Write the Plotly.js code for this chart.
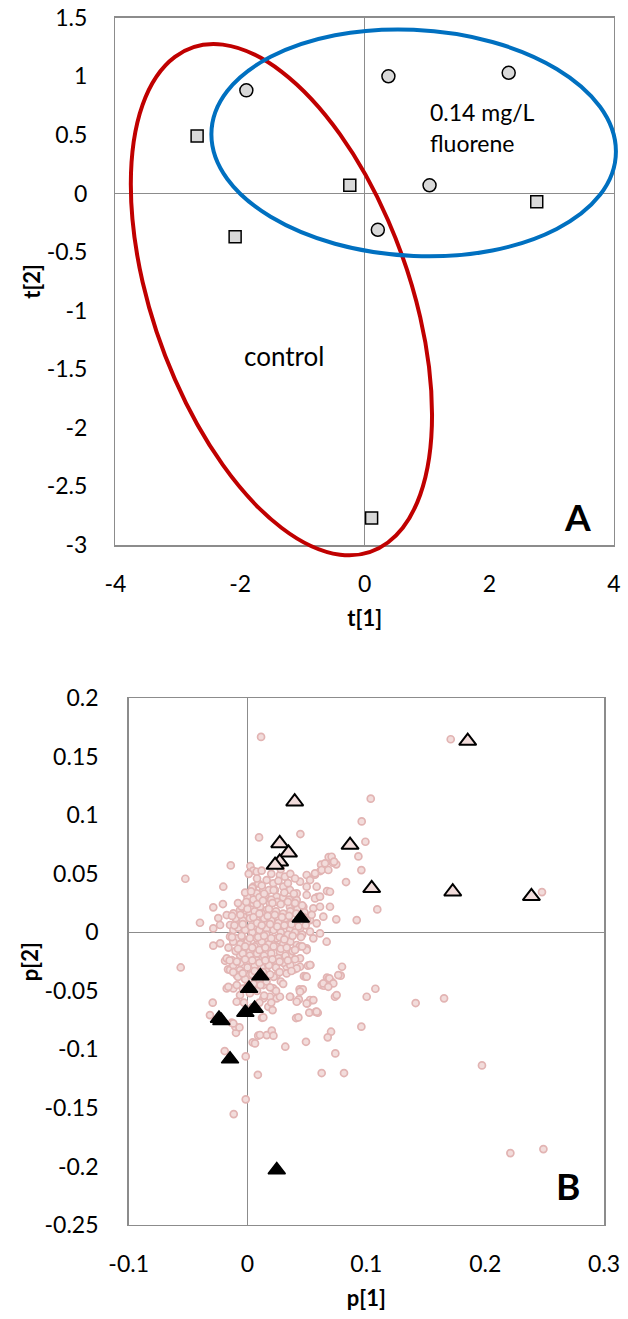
<!DOCTYPE html>
<html><head><meta charset="utf-8">
<script src="https://cdn.plot.ly/plotly-3.0.1.min.js"></script>
<style>html,body{margin:0;padding:0;background:#fff;}</style>
</head><body>
<div id="chart" style="width:628px;height:1319px;"></div>
<script>
// ---------- Panel A: scores ----------
const controlT1 = [-2.69, -0.24, 2.76, -2.08, 0.11];
const controlT2 = [0.49, 0.07, -0.07, -0.37, -2.77];
const fluoreneT1 = [-1.90, 0.38, 2.31, 1.04, 0.21];
const fluoreneT2 = [0.88, 1.00, 1.03, 0.07, -0.31];
// confidence ellipses: centre (t1,t2) and two conjugate semi-diameters
const ellipseControl = [-1.337, -0.881, 2.417, -0.995, 0.0, 1.968];
const ellipseFluorene = [0.785, 0.472, 3.246, -0.074, 0.0, 0.976];

const aXTicks = [-4, -2, 0, 2, 4];
const aXTickText = ['-4', '-2', '0', '2', '4'];
const aYTicks = [1.5, 1, 0.5, 0, -0.5, -1, -1.5, -2, -2.5, -3];
const aYTickText = ['1.5', '1', '0.5', '0', '-0.5', '-1', '-1.5', '-2', '-2.5', '-3'];

// ---------- Panel B: loadings ----------
const loadP1 = [
0.0114,0.171,0.1037,0.0961,0.0445,0.0097,0.0992,0.0933,0.0958,0.0829,
-0.0523,-0.0141,0.0024,0.0048,0.001,-0.0204,-0.040,-0.0288,-0.0207,-0.0246,
0.0747,0.0919,0.1092,0.2478,0.0669,0.0587,0.0683,0.0747,0.0619,0.0613,
0.0568,0.0717,-0.0562,-0.0288,-0.023,0.0795,0.0784,0.0669,0.0681,0.0624,
0.1076,0.1003,0.1415,0.1654,0.0736,0.0958,0.0703,0.0675,0.0739,0.0624,
0.0812,0.1973,0.2212,0.249,-0.0015,0.0087,-0.0015,-0.0116,-0.0192,0.0318,
0.0492,0.0044,0.009,0.0162,0.0204,0.0218,0.0409,0.052,0.0574,-0.0316,
-0.0293,0.036,0.0432,0.0438,0.0537,0.0503,0.0475,0.0509,0.0394,-0.0175,
-0.0189,-0.0164,-0.0097,-0.0102,-0.0068,-0.0133,0.0122,0.0175,0.0211,0.0245,
0.0063,0.0105,0.0133,0.0428,0.0465,0.0526,0.0591,0.0490,0.0529,0.0644,
0.0709,-0.012,-0.0147,
0.0077,0.0119,-0.0119,-0.0063,-0.0007,0.0161,0.0217,0.0273,0.0315,0.0231,
0.0301,0.0357,0.0133,0.0077,0.0049,0.0091,0.0498,0.0568,0.0624,0.0652,
0.0708,0.0728,0.0680,0.0526,0.0442,0.0498,0.0582,0.0414,0.0498,0.0568,
0.0610,0.0694,0.0694,0.0554,0.0470,0.0414,0.0357,0.0301,0.0245,0.0189,
0.0161,0.0105,0.0049,0.0021,-0.0035,-0.0091,-0.0147,-0.0175,-0.0231,-0.0288,
-0.0063,0.0077,0.0161,0.0245,0.0329,0.0442,0.0526,0.0582,0.0638,0.0610,
-0.0119,-0.0035,0.0049,0.0161,0.0273,0.0357,0.0442,0.0526,0.0610,0.0666,
0.0554,0.0498,0.0414,0.0329,0.0245,0.0161,0.0077,-0.0007,-0.0091,-0.0147,
-0.0175,-0.0133,-0.0063,0.0021,0.0105,0.0189,0.0273,0.0357,0.0442,0.0498,
0.0442,0.0526,0.0414,0.0329,0.0245,0.0161,0.0077,-0.0007,-0.0063,-0.0091,
0.0021,0.0077,0.0161,0.0245,0.0329,0.0133,0.0217,0.0273,0.0189,0.0133,
-0.0119,-0.0161,-0.0063,-0.0091,0.0357,0.0414,0.0498,0.0554,0.0582,0.0442,
0.0498,0.0638,0.0689,0.0722,0.0680,0.0750,0.0764,
0.000,0.005,0.010,0.015,0.020,0.025,0.030,0.035,0.040,
-0.005,0.000,0.006,0.012,0.018,0.024,0.030,0.036,0.042,0.048,
-0.010,-0.004,0.002,0.008,0.014,0.020,0.026,0.032,0.038,0.050,
-0.008,-0.002,0.004,0.010,0.016,0.022,0.028,0.034,0.040,0.046,
-0.012,-0.006,0.000,0.006,0.012,0.018,0.024,0.030,0.036,0.044,
-0.010,-0.004,0.002,0.008,0.014,0.020,0.026,0.032,0.038,
-0.012,-0.006,0.000,0.006,0.012,0.018,0.024,0.030,0.036,
-0.008,-0.002,0.004,0.010,0.016,0.022,0.028,
-0.004,0.002,0.008,0.014,0.024,
-0.003,0.004,0.010,0.020,
0.004,0.012,0.018,0.026,0.034,0.008,0.020,0.028,0.036,0.040,
-0.002,0.003,0.014,0.022,0.031,0.039,
-0.008,-0.001,0.008,0.013,0.021,0.028,0.034,0.040,0.046,
-0.013,-0.006,0.005,0.010,0.017,0.023,0.029,0.035,0.041,0.047,0.054,
-0.011,-0.004,0.003,0.012,0.019,0.025,0.031,0.037,0.043,0.049,
-0.013,-0.005,0.002,0.009,0.014,0.020,0.027,0.031,0.038,0.045,
-0.016,-0.008,-0.002,0.004,0.010,0.015,0.022,0.028,0.033,0.040,0.046,
-0.015,-0.009,-0.002,0.004,0.010,0.015,0.021,0.027,0.034,0.040,
-0.012,-0.004,0.006,0.013,0.019,0.027,0.037,
-0.009,0.000,0.005,0.011,0.019,0.030
];
const loadP2 = [
0.167,0.165,0.1142,0.0948,0.084,0.0811,0.0774,0.0649,0.0532,0.043,
0.0458,0.0572,0.0566,0.0527,0.050,0.039,0.0082,0.0214,0.0242,0.0122,
0.0111,0.0105,0.0196,0.0344,0.0353,0.0302,0.0643,0.0581,0.0578,0.0524,
0.0493,0.0595,-0.030,-0.0114,-0.0094,-0.0294,-0.037,-0.0387,-0.040,-0.045,
-0.0482,-0.055,-0.0604,-0.0564,-0.055,-0.0806,-0.0849,-0.0897,-0.1034,-0.1202,
-0.1202,-0.1137,-0.1886,-0.1852,-0.106,-0.1217,-0.1427,-0.1553,-0.1014,-0.0977,
-0.0935,-0.094,-0.0883,-0.0878,-0.084,-0.0883,-0.0732,-0.0686,-0.068,-0.0707,
-0.0601,-0.055,-0.0573,-0.0487,-0.058,-0.0607,-0.0374,-0.0285,-0.0316,-0.0479,
-0.0243,-0.0316,-0.0858,-0.0806,-0.0812,-0.0772,-0.073,-0.0636,-0.0664,-0.0564,
-0.0949,-0.0877,-0.0727,-0.0727,-0.0487,-0.0578,-0.0687,-0.0379,-0.0279,-0.0456,
-0.0422,-0.0778,-0.032,
0.0518,0.0527,0.0163,0.0191,0.0219,0.0447,0.0419,0.0490,0.0476,0.0362,
0.0390,0.0362,0.0362,0.0333,0.039,0.0419,0.0490,0.0504,0.0533,0.0590,
0.0646,0.0604,0.0533,0.0447,0.0433,0.0390,0.0390,0.0333,0.0319,0.0290,
0.0305,0.0347,0.0219,0.0205,0.0219,0.0276,0.0219,0.0276,0.0305,0.0248,
0.0191,0.0219,0.0248,0.0163,0.0134,0.0105,0.0063,0.0148,0.0063,0.0034,
0.0048,0.0105,0.0077,0.0134,0.0105,0.0134,0.0105,0.0077,0.0134,0.0219,
0.0020,0.0034,0.0048,0.0034,0.0048,0.0020,0.0034,0.0006,-0.0009,-0.0080,
-0.0051,-0.0137,-0.0108,-0.0080,-0.0051,-0.0066,-0.0051,-0.0066,-0.0051,-0.0037,
-0.0222,-0.0237,-0.0194,-0.0165,-0.0151,-0.0137,-0.0165,-0.0194,-0.0222,-0.0151,
-0.0294,-0.0279,-0.0308,-0.0294,-0.0251,-0.0222,-0.0237,-0.0251,-0.0322,-0.0365,
-0.0365,-0.0393,-0.0336,-0.0365,-0.0351,-0.0450,-0.0479,-0.0550,-0.0550,-0.0564,
-0.0479,-0.0465,-0.0536,-0.0593,-0.0550,-0.0593,-0.0607,-0.0579,-0.0678,-0.0507,
-0.0379,-0.0436,-0.0393,-0.0436,-0.0465,-0.0536,-0.0365,
0.030,0.028,0.030,0.032,0.028,0.026,0.030,0.028,0.024,
0.022,0.020,0.018,0.016,0.020,0.018,0.016,0.018,0.020,0.017,
0.012,0.010,0.012,0.008,0.012,0.010,0.008,0.012,0.008,0.010,
0.004,0.002,0.000,0.002,-0.002,0.002,0.000,-0.002,0.000,-0.002,
-0.008,-0.010,-0.008,-0.012,-0.008,-0.010,-0.012,-0.010,-0.008,-0.012,
-0.016,-0.018,-0.020,-0.018,-0.020,-0.018,-0.022,-0.020,-0.016,
-0.028,-0.026,-0.030,-0.028,-0.030,-0.028,-0.030,-0.026,-0.028,
-0.038,-0.040,-0.036,-0.040,-0.042,-0.038,-0.042,
-0.048,-0.052,-0.050,-0.054,-0.050,
-0.060,-0.064,-0.060,-0.060,
0.038,0.040,0.036,0.044,0.042,0.046,0.050,0.054,0.050,0.046,
0.034,0.035,0.033,0.036,0.034,0.033,
0.025,0.026,0.024,0.027,0.025,0.024,0.026,0.025,0.023,
0.014,0.015,0.013,0.016,0.014,0.015,0.013,0.014,0.016,0.013,0.015,
0.006,0.007,0.005,0.006,0.007,0.005,0.006,0.007,0.005,0.006,
-0.004,-0.003,-0.005,-0.004,-0.003,-0.005,-0.004,-0.006,-0.003,-0.004,
-0.013,-0.014,-0.012,-0.013,-0.015,-0.013,-0.012,-0.014,-0.013,-0.015,-0.012,
-0.024,-0.025,-0.023,-0.024,-0.026,-0.024,-0.023,-0.025,-0.024,-0.023,
-0.034,-0.035,-0.033,-0.034,-0.036,-0.034,-0.033,
-0.045,-0.046,-0.044,-0.045,-0.047,-0.044
];
// highlighted variables
const upP1 = [0.1853, 0.0397, 0.0271, 0.0345, 0.0271, 0.0232, 0.0863, 0.1045, 0.1727, 0.2389];
const upP2 = [0.1634, 0.1116, 0.0760, 0.0680, 0.0603, 0.0575, 0.0746, 0.0376, 0.0347, 0.0308];
const downP1 = [0.0448, 0.0108, 0.0013, 0.0060, -0.0018, -0.0220, -0.0240, -0.0147, 0.0246];
const downP2 = [0.0120, -0.0373, -0.0479, -0.0650, -0.0684, -0.0755, -0.0735, -0.1083, -0.2030];

const bXTicks = [-0.1, 0, 0.1, 0.2, 0.3];
const bXTickText = ['-0.1', '0', '0.1', '0.2', '0.3'];
const bYTicks = [0.2, 0.15, 0.1, 0.05, 0, -0.05, -0.1, -0.15, -0.2, -0.25];
const bYTickText = ['0.2', '0.15', '0.1', '0.05', '0', '-0.05', '-0.1', '-0.15', '-0.2', '-0.25'];

// ---------- build ----------
const FONT = 'Lato, "Open Sans", sans-serif';
const GRAY = '#8c8c8c';
const W = 628, H = 1319;

const aDomX = [0.1839, 0.9777], aDomY = [0.5868, 0.9866];
const aRangeX = [-4, 4], aRangeY = [-3, 1.5];
// invisible twin axes of panel A, a little larger, so the ellipses may run past the frame
function widen(dom, rng, padFrac) {
  const s = (rng[1] - rng[0]) / (dom[1] - dom[0]);
  return {domain: [dom[0] - padFrac, dom[1] + padFrac], range: [rng[0] - padFrac * s, rng[1] + padFrac * s]};
}
const twinX = widen(aDomX, aRangeX, 12 / W);
const twinY = widen(aDomY, aRangeY, 24 / H);

function ellipsePath(e) {
  const [cx, cy, ux, uy, vx, vy] = e;
  const k = 0.5523;
  const P = (a, b) => [cx + a * ux + b * vx, cy + a * uy + b * vy];
  const pts = [[1,0],[0,1],[-1,0],[0,-1]];
  let d = 'M' + P(1,0).join(',');
  for (let i = 0; i < 4; i++) {
    const [a0, b0] = pts[i], [a1, b1] = pts[(i + 1) % 4];
    const c1 = P(a0 + k * a1, b0 + k * b1);
    const c2 = P(a1 + k * a0, b1 + k * b0);
    const p = P(a1, b1);
    d += ' C' + c1.join(',') + ' ' + c2.join(',') + ' ' + p.join(',');
  }
  return d + ' Z';
}

const traces = [
  {x: controlT1, y: controlT2, xaxis: 'x', yaxis: 'y', type: 'scatter', mode: 'markers', name: 'control',
   marker: {symbol: 'square', size: 12, color: '#d9d9d9', line: {color: '#000', width: 1.5}}},
  {x: fluoreneT1, y: fluoreneT2, xaxis: 'x', yaxis: 'y', type: 'scatter', mode: 'markers', name: '0.14 mg/L fluorene',
   marker: {symbol: 'circle', size: 13, color: '#d9d9d9', line: {color: '#000', width: 1.5}}},
  {x: [], y: [], xaxis: 'x3', yaxis: 'y3', type: 'scatter', mode: 'markers', hoverinfo: 'skip', name: 'ellipses'},
  {x: loadP1, y: loadP2, xaxis: 'x2', yaxis: 'y2', type: 'scatter', mode: 'markers', name: 'variables',
   marker: {symbol: 'circle', size: 7, color: '#f2dcdb', line: {color: '#e2b4b3', width: 1.7}}},
  {x: upP1, y: upP2, xaxis: 'x2', yaxis: 'y2', type: 'scatter', mode: 'markers', name: 'up',
   marker: {symbol: 'triangle-up', size: 15, color: '#f2dcdb', line: {color: '#000', width: 2}}},
  {x: downP1, y: downP2, xaxis: 'x2', yaxis: 'y2', type: 'scatter', mode: 'markers', name: 'down',
   marker: {symbol: 'triangle-up', size: 15, color: '#000', line: {color: '#000', width: 1.5}}}
];

const axBase = {
  showgrid: false, zeroline: true, zerolinecolor: GRAY, zerolinewidth: 1.5,
  showline: true, mirror: true, linecolor: GRAY, linewidth: 1.5,
  ticks: '', tickmode: 'array', tickfont: {family: FONT, size: 23, color: '#000'},
  fixedrange: true
};
const titleFont = {family: FONT, size: 22, color: '#000', weight: 'bold'};

const layout = {
  width: W, height: H,
  margin: {l: 0, r: 0, t: 0, b: 0},
  paper_bgcolor: '#fff', plot_bgcolor: 'rgba(0,0,0,0)',
  showlegend: false,
  xaxis: Object.assign({}, axBase, {domain: aDomX, range: aRangeX, anchor: 'y',
     tickvals: aXTicks, ticktext: aXTickText, ticklabelstandoff: 18,
     title: {text: '<b>t[1]</b>', font: titleFont, standoff: 14}}),
  yaxis: Object.assign({}, axBase, {domain: aDomY, range: aRangeY, anchor: 'x',
     tickvals: aYTicks, ticktext: aYTickText, ticklabelstandoff: 22,
     title: {text: '<b>t[2]</b>', font: titleFont}}),
  xaxis2: Object.assign({}, axBase, {domain: [0.2049, 0.9618], range: [-0.1, 0.3], anchor: 'y2',
     tickvals: bXTicks, ticktext: bXTickText, ticklabelstandoff: 18,
     title: {text: '<b>p[1]</b>', font: titleFont, standoff: 14}}),
  yaxis2: Object.assign({}, axBase, {domain: [0.0713, 0.4706], range: [-0.25, 0.2], anchor: 'x2',
     tickvals: bYTicks, ticktext: bYTickText, ticklabelstandoff: 24,
     title: {text: '<b>p[2]</b>', font: titleFont}}),
  xaxis3: {visible: false, domain: twinX.domain, range: twinX.range, anchor: 'y3', fixedrange: true},
  yaxis3: {visible: false, domain: twinY.domain, range: twinY.range, anchor: 'x3', fixedrange: true},
  shapes: [
    {type: 'path', xref: 'x3', yref: 'y3', path: ellipsePath(ellipseControl), line: {color: '#c00000', width: 4}, layer: 'above'},
    {type: 'path', xref: 'x3', yref: 'y3', path: ellipsePath(ellipseFluorene), line: {color: '#0070c0', width: 4}, layer: 'above'}
  ],
  annotations: [
    {xref: 'x', yref: 'y', x: 1.01, y: 0.695, text: '0.14 mg/L', showarrow: false, xanchor: 'left', yanchor: 'middle',
     font: {family: FONT, size: 23, color: '#000'}},
    {xref: 'x', yref: 'y', x: 1.01, y: 0.43, text: 'fluorene', showarrow: false, xanchor: 'left', yanchor: 'middle',
     font: {family: FONT, size: 23, color: '#000'}},
    {xref: 'x', yref: 'y', x: -1.963, y: -1.387, text: 'control', showarrow: false, xanchor: 'left', yanchor: 'middle',
     font: {family: FONT, size: 26, color: '#000'}},
    {xref: 'x', yref: 'y', x: 3.41, y: -2.756, text: '<b>A</b>', showarrow: false, xanchor: 'center', yanchor: 'middle',
     font: {family: FONT, size: 37, color: '#000'}},
    {xref: 'x2', yref: 'y2', x: 0.270, y: -0.2165, text: '<b>B</b>', showarrow: false, xanchor: 'center', yanchor: 'middle',
     font: {family: FONT, size: 37, color: '#000'}}
  ]
};

Plotly.newPlot('chart', traces, layout, {displayModeBar: false, staticPlot: true});
</script>
</body></html>
